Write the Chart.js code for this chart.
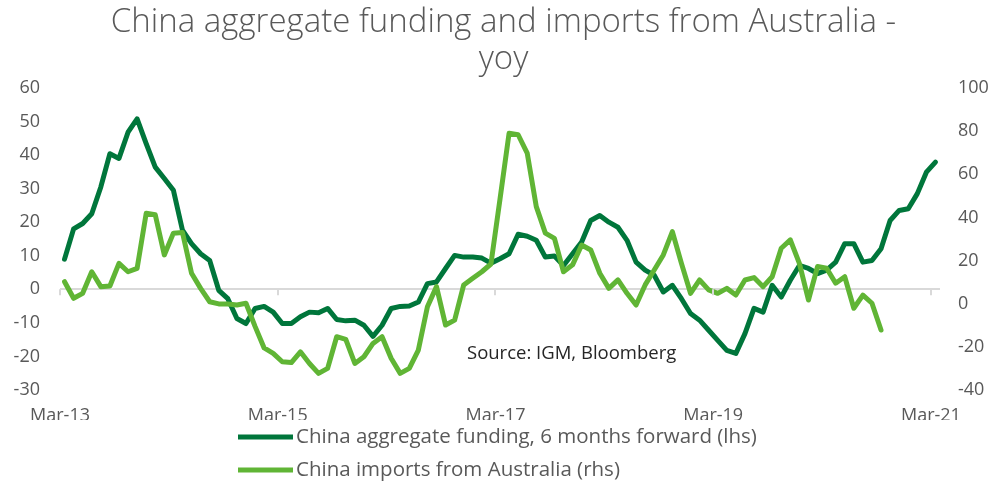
<!DOCTYPE html>
<html>
<head>
<meta charset="utf-8">
<script src="https://cdn.jsdelivr.net/npm/chart.js@4.4.1/dist/chart.umd.min.js"></script>
<style>
    html, body { margin: 0; padding: 0; background: #ffffff; }
    #wrap { width: 1007px; height: 482px; position: relative; }
</style>
</head>
<body>
<div id="wrap"><canvas id="chart"></canvas></div>
<script>
// months counted from Mar-13 (index 0) to Mar-21 (index 96)
const tickLabels = ['Mar-13', 'Mar-15', 'Mar-17', 'Mar-19', 'Mar-21'];
const tickEvery = 24;

// China aggregate funding, 6 months forward (lhs), Mar-13 .. Mar-21
const fundingValues = [
    9, 18, 19.6, 22.5, 30.5, 40.4, 39, 46.8, 50.8, 43.4,
    36.4, 33, 29.5, 17.6, 13.6, 10.6, 8.6, -0.3, -2.8, -8.7,
    -10.2, -5.7, -5.1, -6.8, -10.2, -10.2, -8.2, -6.8, -7, -5.7,
    -9, -9.4, -9.2, -10.7, -14, -10.7, -5.7, -5.1, -5, -3.8,
    1.7, 2.2, 6.2, 10.1, 9.6, 9.6, 9.3, 7.8, 9.1, 10.6,
    16.4, 15.8, 14.6, 9.6, 9.9, 7.1, 10.6, 14.1, 20.5, 22,
    20, 18.5, 14.6, 8.1, 5.7, 4.2, -0.8, 1.2, -2.8, -7.2,
    -9.2, -12.2, -15.2, -18.2, -19.1, -13.2, -5.7, -6.8, 1.2, -2.3,
    2.7, 7.1, 6.2, 4.7, 5.7, 8.1, 13.6, 13.6, 8.1, 8.6,
    12.1, 20.5, 23.5, 24, 28.5, 34.9, 37.9
];

// China imports from Australia (rhs), Mar-13 .. Sep-20
const importValues = [
    10.2, 2.5, 4.8, 14.8, 7.9, 8.2, 18.7, 14.8, 16.4, 41.9,
    41.2, 22.6, 32.7, 33, 14.1, 7.1, 0.9, -0.1, -0.1, -0.6,
    0.2, -10.5, -20.5, -23, -26.9, -27.3, -22.3, -27.7, -32.3, -30,
    -15.3, -16.5, -27.7, -24.6, -18.4, -15.3, -25.3, -32.3, -30, -21.5,
    -1.4, 7.9, -9.9, -7.6, 8.7, 11.8, 14.8, 18.4, 48.5, 79,
    78.3, 69.8, 45, 32.7, 30.3, 14.8, 18, 27.2, 24.9, 14.1,
    7.1, 11, 4.8, -0.6, 8.7, 15.6, 22.6, 33.4, 18.7, 4.8,
    11, 6.4, 4.8, 7.1, 4, 11, 12.1, 7.9, 12.5, 25.7,
    29.6, 18.7, 1.7, 17.2, 16.4, 9.5, 12.5, -2.1, 4, 0.2,
    -12.2
];

const darkGreen = '#00763b';
const lightGreen = '#60b535';
const greyText = '#595959';
const fontFamily = '"Open Sans", "DejaVu Sans", sans-serif';

const toPoints = (arr) => arr.map((v, i) => ({ x: i, y: v }));

// zero line tick marks, legend rows and source note
const extrasPlugin = {
    id: 'extras',
    afterDraw(chart) {
        const ctx = chart.ctx;
        const xs = chart.scales.x;
        const ys = chart.scales.y;
        const zeroY = ys.getPixelForValue(0);

        ctx.save();
        ctx.strokeStyle = '#d9d9d9';
        ctx.lineWidth = 2;
        xs.ticks.forEach(t => {
            const px = Math.round(xs.getPixelForValue(t.value));
            ctx.beginPath();
            ctx.moveTo(px, zeroY);
            ctx.lineTo(px, zeroY + 6);
            ctx.stroke();
        });

        // source note
        ctx.fillStyle = '#262626';
        ctx.font = '18.5px ' + fontFamily;
        ctx.textBaseline = 'middle';
        ctx.textAlign = 'left';
        ctx.fillText('Source: IGM, Bloomberg', 467, 354);

        // legend
        const rows = [437, 470];
        ctx.font = '20.5px ' + fontFamily;
        ctx.fillStyle = greyText;
        chart.data.datasets.forEach((ds, i) => {
            const y = rows[i];
            ctx.strokeStyle = ds.borderColor;
            ctx.lineWidth = 5;
            ctx.lineCap = 'butt';
            ctx.beginPath();
            ctx.moveTo(238, y);
            ctx.lineTo(293, y);
            ctx.stroke();
            ctx.fillText(ds.label, 296, y);
        });
        ctx.restore();
    }
};

const ctx = document.getElementById('chart').getContext('2d');
new Chart(ctx, {
    type: 'line',
    data: {
        datasets: [
            {
                label: 'China aggregate funding, 6 months forward (lhs)',
                data: toPoints(fundingValues),
                borderColor: darkGreen,
                backgroundColor: darkGreen,
                borderWidth: 5,
                pointRadius: 0,
                tension: 0,
                borderJoinStyle: 'round',
                borderCapStyle: 'round',
                yAxisID: 'y',
                order: 2
            },
            {
                label: 'China imports from Australia (rhs)',
                data: toPoints(importValues),
                borderColor: lightGreen,
                backgroundColor: lightGreen,
                borderWidth: 5,
                pointRadius: 0,
                tension: 0,
                borderJoinStyle: 'round',
                borderCapStyle: 'round',
                yAxisID: 'y1',
                order: 1
            }
        ]
    },
    options: {
        responsive: true,
        maintainAspectRatio: false,
        animation: false,
        layout: { padding: { top: 0, bottom: 62, left: 0, right: 0 } },
        plugins: {
            legend: { display: false },
            tooltip: { enabled: false },
            title: {
                display: true,
                text: ['China aggregate funding and imports from Australia -', 'yoy'],
                color: greyText,
                font: { family: fontFamily, size: 33, weight: 300, lineHeight: 1.12 },
                padding: { top: 4, bottom: 10 }
            }
        },
        scales: {
            x: {
                type: 'linear',
                min: -0.5,
                max: 96.5,
                grid: { display: false },
                border: { display: false },
                afterBuildTicks: (scale) => {
                    scale.ticks = tickLabels.map((_, k) => ({ value: k * tickEvery - 0.5 }));
                },
                afterFit: (scale) => { scale.height = 30; },
                ticks: {
                    color: greyText,
                    font: { family: fontFamily, size: 18 },
                    padding: 7,
                    maxRotation: 0,
                    autoSkip: false,
                    callback: (value) => tickLabels[Math.round((value + 0.5) / tickEvery)]
                }
            },
            y: {
                position: 'left',
                min: -30,
                max: 60,
                border: { display: false },
                grid: {
                    drawTicks: false,
                    lineWidth: 2,
                    color: (c) => c.tick && c.tick.value === 0 ? '#d9d9d9' : 'rgba(0,0,0,0)'
                },
                afterFit: (scale) => { scale.width = 60; },
                ticks: {
                    stepSize: 10,
                    color: greyText,
                    font: { family: fontFamily, size: 18 },
                    padding: 20
                }
            },
            y1: {
                position: 'right',
                min: -40,
                max: 100,
                border: { display: false },
                grid: { display: false, drawTicks: false },
                afterFit: (scale) => { scale.width = 67; },
                ticks: {
                    stepSize: 20,
                    color: greyText,
                    font: { family: fontFamily, size: 18 },
                    padding: 18
                }
            }
        }
    },
    plugins: [extrasPlugin]
});
</script>
</body>
</html>
